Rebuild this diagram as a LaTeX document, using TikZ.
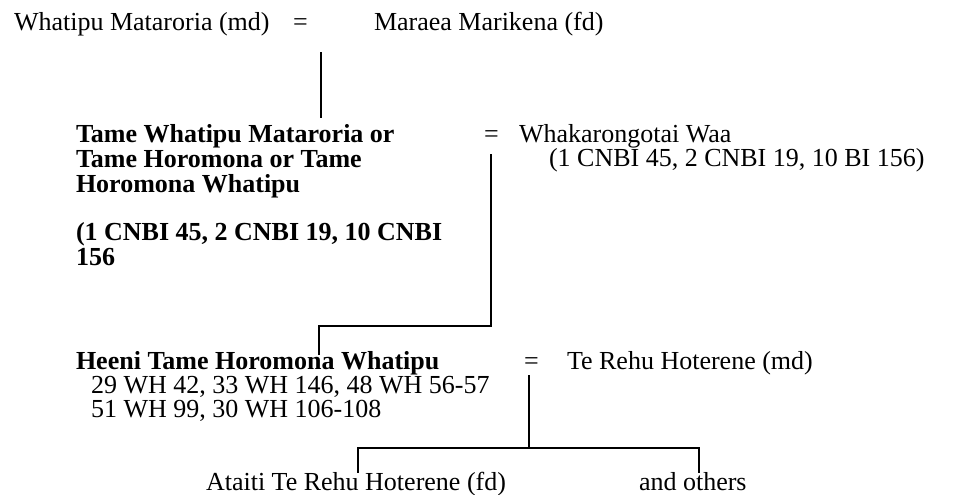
\documentclass[tikz,border=0pt]{standalone}
\usepackage{fontspec}
\setmainfont{Liberation Serif}
\tikzset{
	% ------- every something
	every path/.style={
		line width=2pt,
	},
	% ------- custom
	person/.style={
		anchor=base west,
		inner sep=0pt,
		align=left,
		font=\fontsize{26}{25}\selectfont,
	},
	bold person/.style={
		person,
		font=\fontsize{26}{25}\selectfont\bfseries,
	},
	reference/.style={
		person,
		font=\fontsize{26}{24}\selectfont,
	},
	descent/.style={
		line cap=rect,
	},
}

\begin{document}
\begin{tikzpicture}[x=1pt, y=-1pt]

	\useasboundingbox (0,0) rectangle (958,495);

% first couple %{{{1

	\node[person] (whatipu) at (13,31) {Whatipu Mataroria (md)};
	\node[person] (eq1) at (292,31) {=};
	\node[person] (maraea) at (373,31) {Maraea Marikena (fd)};

% second couple %{{{1

	% base of a multi-line node is its last line
	\node[bold person] (tame) at (75,192)
		{Tame Whatipu Mataroria or\\Tame Horomona or Tame\\Horomona Whatipu};
	\node[bold person] (tameref) at (75,265)
		{(1 CNBI 45, 2 CNBI 19, 10 CNBI\\156};
	\node[person] (eq2) at (483,142) {=};
	\node[person] (whaka) at (518,142) {Whakarongotai Waa};
	\node[person] (whakaref) at (548,166) {(1 CNBI 45, 2 CNBI 19, 10 BI 156)};

% third couple %{{{1

	\node[bold person] (heeni) at (75,369) {Heeni Tame Horomona Whatipu};
	\node[reference] (heeniref) at (90,417)
		{29 WH 42, 33 WH 146, 48 WH 56-57\\51 WH 99, 30 WH 106-108};
	\node[person] (eq3) at (523,369) {=};
	\node[person] (terehu) at (566,369) {Te Rehu Hoterene (md)};

% children %{{{1

	\node[person] (ataiti) at (205,490) {Ataiti Te Rehu Hoterene (fd)};
	\node[person] (others) at (638,490) {and others};

% coordinates %{{{1

	\coordinate (drop1 top) at (321,53);
	\coordinate (drop1 end) at (321,117);

	\coordinate (drop2 top) at (491,155);
	\coordinate (drop2 knee) at (491,326);
	\coordinate (heeni knee) at (319,326);
	\coordinate (heeni top) at (319,354);

	\coordinate (drop3 top) at (529,376);
	\coordinate (drop3 bar) at (529,448);
	\coordinate (ataiti knee) at (358,448);
	\coordinate (ataiti top) at (358,472);
	\coordinate (others knee) at (699,448);
	\coordinate (others top) at (699,472);

% lines of descent %{{{1

	\draw[descent] (drop1 top) -- (drop1 end);
	\draw[descent] (drop2 top) -- (drop2 knee) -- (heeni knee) -- (heeni top);
	\draw[descent] (drop3 top) -- (drop3 bar);
	\draw[descent] (ataiti top) -- (ataiti knee) -- (others knee) -- (others top);

% closing %{{{1

\end{tikzpicture}
\end{document}
